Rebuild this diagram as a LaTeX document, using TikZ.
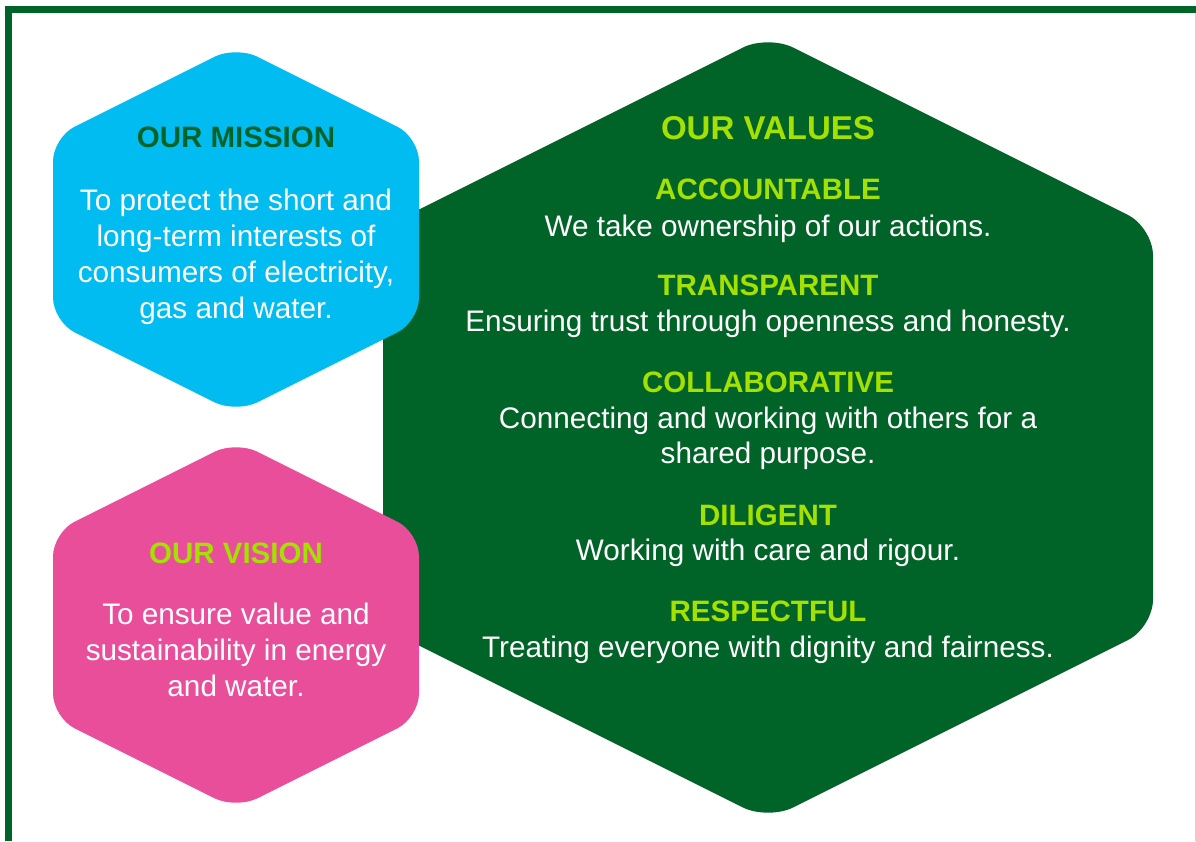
\documentclass[tikz,border=0pt]{standalone}
\usepackage{fontspec}
\setmainfont{Liberation Sans}
\usetikzlibrary{positioning}

\definecolor{valgreen}{RGB}{0,99,40}
\definecolor{misblue}{RGB}{0,188,240}
\definecolor{vispink}{RGB}{233,78,155}
\definecolor{limegreen}{RGB}{164,224,0}

\begin{document}
\begin{tikzpicture}[
        x=1pt,
        y=-1pt,
        every node/.style={anchor=base, inner sep=0pt},
        bigtitle/.style={font=\bfseries\fontsize{33}{40}\selectfont, text=limegreen},
        head/.style={font=\bfseries\fontsize{29.5}{36}\selectfont, text=limegreen},
        body/.style={font=\fontsize{29.7}{36}\selectfont, text=white},
        hexbig/.style={fill=valgreen, rounded corners=28pt},
        hexsmall/.style={rounded corners=24pt}
    ]
    \useasboundingbox (0,0) rectangle (1196,841);

    % frame
    \draw[valgreen, line width=7pt] (8,841) -- (8,9.5) -- (1196,9.5);
    \draw[black!18, line width=1pt] (1195.5,13) -- (1195.5,841);

    % hexagons
    \fill[hexbig] (768,35) -- (1153,227.5) -- (1153,627.5) -- (768,820)
        -- (383,627.5) -- (383,227.5) -- cycle;
    \fill[hexsmall, fill=misblue] (236,46) -- (419,137.5) -- (419,321.5) -- (236,413)
        -- (53,321.5) -- (53,137.5) -- cycle;
    \fill[hexsmall, fill=vispink] (236,441) -- (419,532.5) -- (419,717.5) -- (236,809)
        -- (53,717.5) -- (53,532.5) -- cycle;

    % mission
    \node[head, text=valgreen] (mission) at (236,147.5) {OUR MISSION};
    \node[body] (m1) at (236,210) {To protect the short and};
    \node[body] (m2) at (236,246) {long-term interests of};
    \node[body] (m3) at (236,282) {consumers of electricity,};
    \node[body] (m4) at (236,318) {gas and water.};

    % vision
    \node[head] (vision) at (236,563.5) {OUR VISION};
    \node[body] (v1) at (236,624) {To ensure value and};
    \node[body] (v2) at (236,660.5) {sustainability in energy};
    \node[body] (v3) at (236,696.5) {and water.};

    % values
    \node[bigtitle] (values) at (768,139.5) {OUR VALUES};
    \node[head] (acc) at (768,199.5) {ACCOUNTABLE};
    \node[body] (acc1) at (768,236) {We take ownership of our actions.};
    \node[head] (tra) at (768,295) {TRANSPARENT};
    \node[body] (tra1) at (768,331.5) {Ensuring trust through openness and honesty.};
    \node[head] (col) at (768,392.5) {COLLABORATIVE};
    \node[body] (col1) at (768,428.5) {Connecting and working with others for a};
    \node[body] (col2) at (768,463.5) {shared purpose.};
    \node[head] (dil) at (768,525) {DILIGENT};
    \node[body] (dil1) at (768,560.5) {Working with care and rigour.};
    \node[head] (res) at (768,621.5) {RESPECTFUL};
    \node[body] (res1) at (768,657) {Treating everyone with dignity and fairness.};
\end{tikzpicture}
\end{document}
